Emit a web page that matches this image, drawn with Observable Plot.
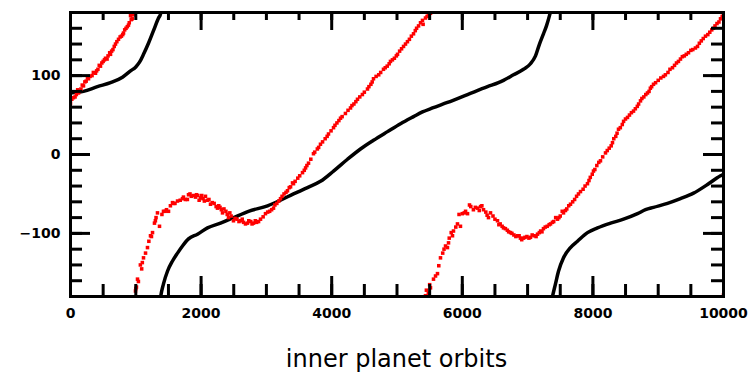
<!DOCTYPE html>
<html>
<head>
<meta charset="utf-8">
<script src="https://cdn.jsdelivr.net/npm/d3@7"></script>
<script src="https://cdn.jsdelivr.net/npm/@observablehq/plot@0.6"></script>
<style>
  body { margin: 0; background: #fff; }
  #chart { width: 751px; }
  #chart svg { display: block; }
  .caption {
    width: 751px;
    box-sizing: border-box;
    padding-left: 42px;
    margin-top: -1px;
    text-align: center;
    font-family: "DejaVu Sans", sans-serif;
    font-size: 24px;
    line-height: 30px;
    color: #000;
  }
</style>
</head>
<body>
<div id="chart"></div>
<div class="caption">inner planet orbits</div>
<script>
// Phase angle (degrees, wrapped to ±180) against step number.
// Black: smooth reference orbit; a new piece starts wherever it wraps.
const blackX = [
  0,199,413,613,796,919,1000,1057,1118,1194,1271,1348,1378,1392,
  1372,1378,1424,1485,1562,1639,1715,1807,1945,2098,2297,2496,2726,3017,3216,3415,3629,3828,4028,4242,4441,4640,4855,5054,5253,5390,5544,5773,6080,6386,6554,6631,6784,6937,7044,7121,7182,7243,7289,7335,7360,
  7366,7381,7427,7473,7550,7657,7764,7917,8070,8270,8469,8683,8806,8928,9142,9341,9541,9755,9954,10000
];
const blackY = [
  78,80,86,91,98,106,111,117,127,141,157,173,178,184,
  -186,-182,-164,-148,-135,-125,-116,-107,-101,-93,-87,-80,-72,-65,-58,-50,-42,-34,-21,-6,7,18,29,39,48,54,59,66,76,86,91,94,101,108,115,125,140,153,163,176,184,
  -186,-180,-164,-148,-131,-118,-110,-99,-93,-87,-82,-75,-70,-67,-62,-56,-49,-38,-27,-25
];

// Red: sampled phase of the perturbed orbit, [step, degrees].
const redFirst = [
  [0,65],[20,70],[46,72],[70,73],[90,76],[110,82],[123,78],[140,80],[160,83],[180,88],[199,87],[220,92],[240,93],
  [260,97],[276,96],[300,99],[330,100],[350,104],[383,103],[400,106],[420,108],[440,113],[459,112],[480,116],
  [500,118],[520,120],[536,122],[560,121],[575,125],[600,129],[613,127],[630,131],[650,133],[670,137],[689,140],
  [710,143],[735,146],[760,149],[780,150],[800,152],[812,154],[830,158],[850,160],[870,162],[888,164],[900,167],
  [919,176],[930,171],[945,172],[965,177]
];
const redSecond = [
  [995,-173],[1000,-170],[1010,-168],[1026,-158],[1040,-161],[1070,-140],[1090,-145],[1100,-137],[1118,-131],
  [1149,-125],[1179,-118],[1200,-110],[1225,-103],[1240,-104],[1256,-99],[1286,-87],[1300,-84],[1310,-80],
  [1332,-74],[1363,-91],[1400,-76],[1424,-72],[1450,-72],[1470,-70],[1501,-72],[1530,-65],[1562,-61],[1580,-62],
  [1600,-62],[1639,-59],[1680,-58],[1715,-56],[1730,-54],[1760,-57],[1790,-57],[1807,-51],[1830,-50],[1850,-53],
  [1880,-52],[1914,-54],[1930,-51],[1950,-52],[1970,-58],[1991,-55],[2010,-52],[2030,-56],[2050,-59],[2067,-53],
  [2100,-58],[2120,-57],[2144,-63],[2170,-61],[2200,-62],[2230,-66],[2251,-68],[2270,-65],[2290,-67],[2310,-70],
  [2328,-74],[2350,-69],[2380,-72],[2400,-76],[2420,-80],[2440,-74],[2460,-78],[2496,-84],[2520,-81],[2550,-82],
  [2580,-85],[2603,-84],[2630,-82],[2650,-86],[2680,-88],[2710,-87],[2730,-84],[2760,-85],[2780,-88],[2802,-87],
  [2830,-84],[2850,-86],[2880,-85],[2910,-82],[2950,-79],[2986,-75],[3020,-73],[3050,-72],[3080,-70],[3109,-68],
  [3130,-64],[3160,-62],[3190,-59],[3216,-56],[3240,-53],[3270,-50],[3300,-48],[3323,-46],[3350,-42],[3370,-41],
  [3400,-36],[3415,-37],[3440,-34],[3480,-30],[3510,-27],[3553,-23],[3580,-20],[3600,-17],[3620,-14],[3645,-11],
  [3680,-6],[3721,1],[3740,3],[3780,7],[3800,9],[3828,13],[3860,16],[3900,20],[3930,23],[3951,26],[3990,30],
  [4028,34],[4050,37],[4080,40],[4110,43],[4135,46],[4160,48],[4210,52],[4250,56],[4288,59],[4310,62],[4340,64],
  [4370,67],[4395,70],[4430,73],[4470,76],[4500,79],[4548,83],[4570,86],[4600,89],[4620,92],[4640,96],[4680,99],
  [4720,101],[4750,104],[4793,108],[4820,110],[4850,112],[4880,115],[4900,118],[4930,120],[4960,122],[4990,125],
  [5008,127],[5040,131],[5070,134],[5100,137],[5130,140],[5160,143],[5190,146],[5220,150],[5253,153],[5280,157],
  [5300,160],[5330,163],[5360,167],[5390,170],[5400,165],[5436,173],[5460,175],[5480,176],[5513,179]
];
const redThird = [
  [5436,-179],[5450,-172],[5480,-176],[5500,-165],[5513,-169],[5559,-158],[5590,-154],[5620,-151],[5640,-141],
  [5666,-131],[5700,-125],[5720,-120],[5743,-116],[5773,-118],[5789,-112],[5800,-106],[5830,-99],[5850,-103],
  [5865,-97],[5900,-92],[5926,-88],[5950,-76],[5972,-91],[6000,-75],[6030,-74],[6050,-72],[6080,-75],[6110,-64],
  [6130,-66],[6170,-70],[6200,-67],[6233,-68],[6260,-71],[6280,-66],[6300,-65],[6325,-70],[6360,-73],[6380,-77],
  [6401,-80],[6432,-74],[6470,-78],[6500,-82],[6539,-84],[6560,-89],[6580,-88],[6610,-91],[6631,-93],[6660,-94],
  [6690,-96],[6710,-98],[6738,-99],[6760,-100],[6790,-102],[6820,-104],[6845,-103],[6870,-103],[6890,-106],
  [6910,-108],[6937,-106],[6960,-105],[6990,-104],[7020,-106],[7044,-105],[7070,-102],[7100,-103],[7130,-104],
  [7152,-101],[7180,-99],[7200,-97],[7220,-98],[7243,-94],[7270,-92],[7300,-91],[7330,-89],[7351,-88],[7380,-86],
  [7400,-85],[7430,-80],[7458,-82],[7480,-80],[7500,-78],[7530,-72],[7550,-74],[7580,-71],[7600,-69],[7630,-65],
  [7657,-63],[7690,-60],[7720,-57],[7750,-53],[7779,-50],[7810,-47],[7850,-44],[7880,-40],[7917,-37],[7940,-33],
  [7960,-29],[7990,-25],[8009,-21],[8030,-19],[8060,-14],[8090,-10],[8116,-8],[8150,-3],[8193,2],[8220,5],
  [8250,8],[8280,11],[8300,15],[8320,20],[8350,23],[8370,27],[8392,32],[8420,34],[8450,38],[8470,42],[8499,45],
  [8530,47],[8560,50],[8590,53],[8622,55],[8650,58],[8680,61],[8700,64],[8729,68],[8750,71],[8780,73],[8810,76],
  [8836,78],[8860,80],[8880,84],[8900,86],[8928,89],[8960,91],[9000,94],[9040,97],[9081,99],[9110,101],[9150,104],
  [9180,108],[9219,110],[9250,113],[9280,116],[9310,118],[9341,121],[9370,124],[9400,125],[9430,127],[9464,129],
  [9500,132],[9530,133],[9570,135],[9602,137],[9630,141],[9660,144],[9690,147],[9724,150],[9760,152],[9790,155],
  [9820,158],[9847,160],[9870,163],[9900,166],[9930,168],[9954,172],[9980,175],[10000,177],[10000,-178]
];

// Axis ticks
const xLabels = [0, 2000, 4000, 6000, 8000, 10000];
const xMinor = d3.range(0, 10001, 500);
const yLabels = [-100, 0, 100];
const yMinor = d3.range(-180, 181, 20);

// Split the black orbit into pieces at each ±180 wrap.
let piece = 0;
const black = blackX.map((x, i) => {
  if (i > 0 && Math.abs(blackY[i] - blackY[i - 1]) > 180) piece++;
  return {x, y: blackY[i], piece};
});
const red = [...redFirst, ...redSecond, ...redThird].map(([x, y]) => ({x, y}));

const W = 751, H = 345;
const margin = {top: 12, right: 28, bottom: 49, left: 70};
const plotW = W - margin.left - margin.right;
const plotH = H - margin.top - margin.bottom;
const tickStyle = {stroke: "#000", strokeWidth: 3};

const chart = Plot.plot({
  width: W,
  height: H,
  marginTop: margin.top,
  marginRight: margin.right,
  marginBottom: margin.bottom,
  marginLeft: margin.left,
  x: {domain: [0, 10000], label: null},
  y: {domain: [-180, 180], label: null},
  style: {
    fontFamily: "'DejaVu Sans', sans-serif",
    fontSize: "14px",
    fontWeight: "bold",
    color: "#000",
    background: "#fff"
  },
  marks: [
    Plot.line(black, {x: "x", y: "y", z: "piece", stroke: "#000", strokeWidth: 3.5, curve: "monotone-x", clip: true}),
    Plot.dot(red, {x: "x", y: "y", symbol: "square", r: 2, fill: "#ff0000", stroke: null, clip: true}),
    // inward ticks on all four sides
    Plot.tickX(xMinor, {insetTop: plotH - 12, ...tickStyle}),
    Plot.tickX(xLabels, {insetTop: plotH - 20, ...tickStyle}),
    Plot.tickX(xMinor, {insetBottom: plotH - 8, ...tickStyle}),
    Plot.tickX(xLabels, {insetBottom: plotH - 18, ...tickStyle}),
    Plot.tickY(yMinor, {insetRight: plotW - 12, ...tickStyle}),
    Plot.tickY(yLabels, {insetRight: plotW - 20, ...tickStyle}),
    Plot.tickY(yMinor, {insetLeft: plotW - 12, ...tickStyle}),
    Plot.tickY(yLabels, {insetLeft: plotW - 20, ...tickStyle}),
    Plot.frame({stroke: "#000", strokeWidth: 3}),
    Plot.axisX(xLabels, {anchor: "bottom", tickSize: 0, tickPadding: 12, tickFormat: "d", label: null}),
    Plot.axisY(yLabels, {anchor: "left", tickSize: 0, tickPadding: 10, tickFormat: "d", label: null})
  ]
});

document.getElementById("chart").append(chart);
</script>
</body>
</html>
